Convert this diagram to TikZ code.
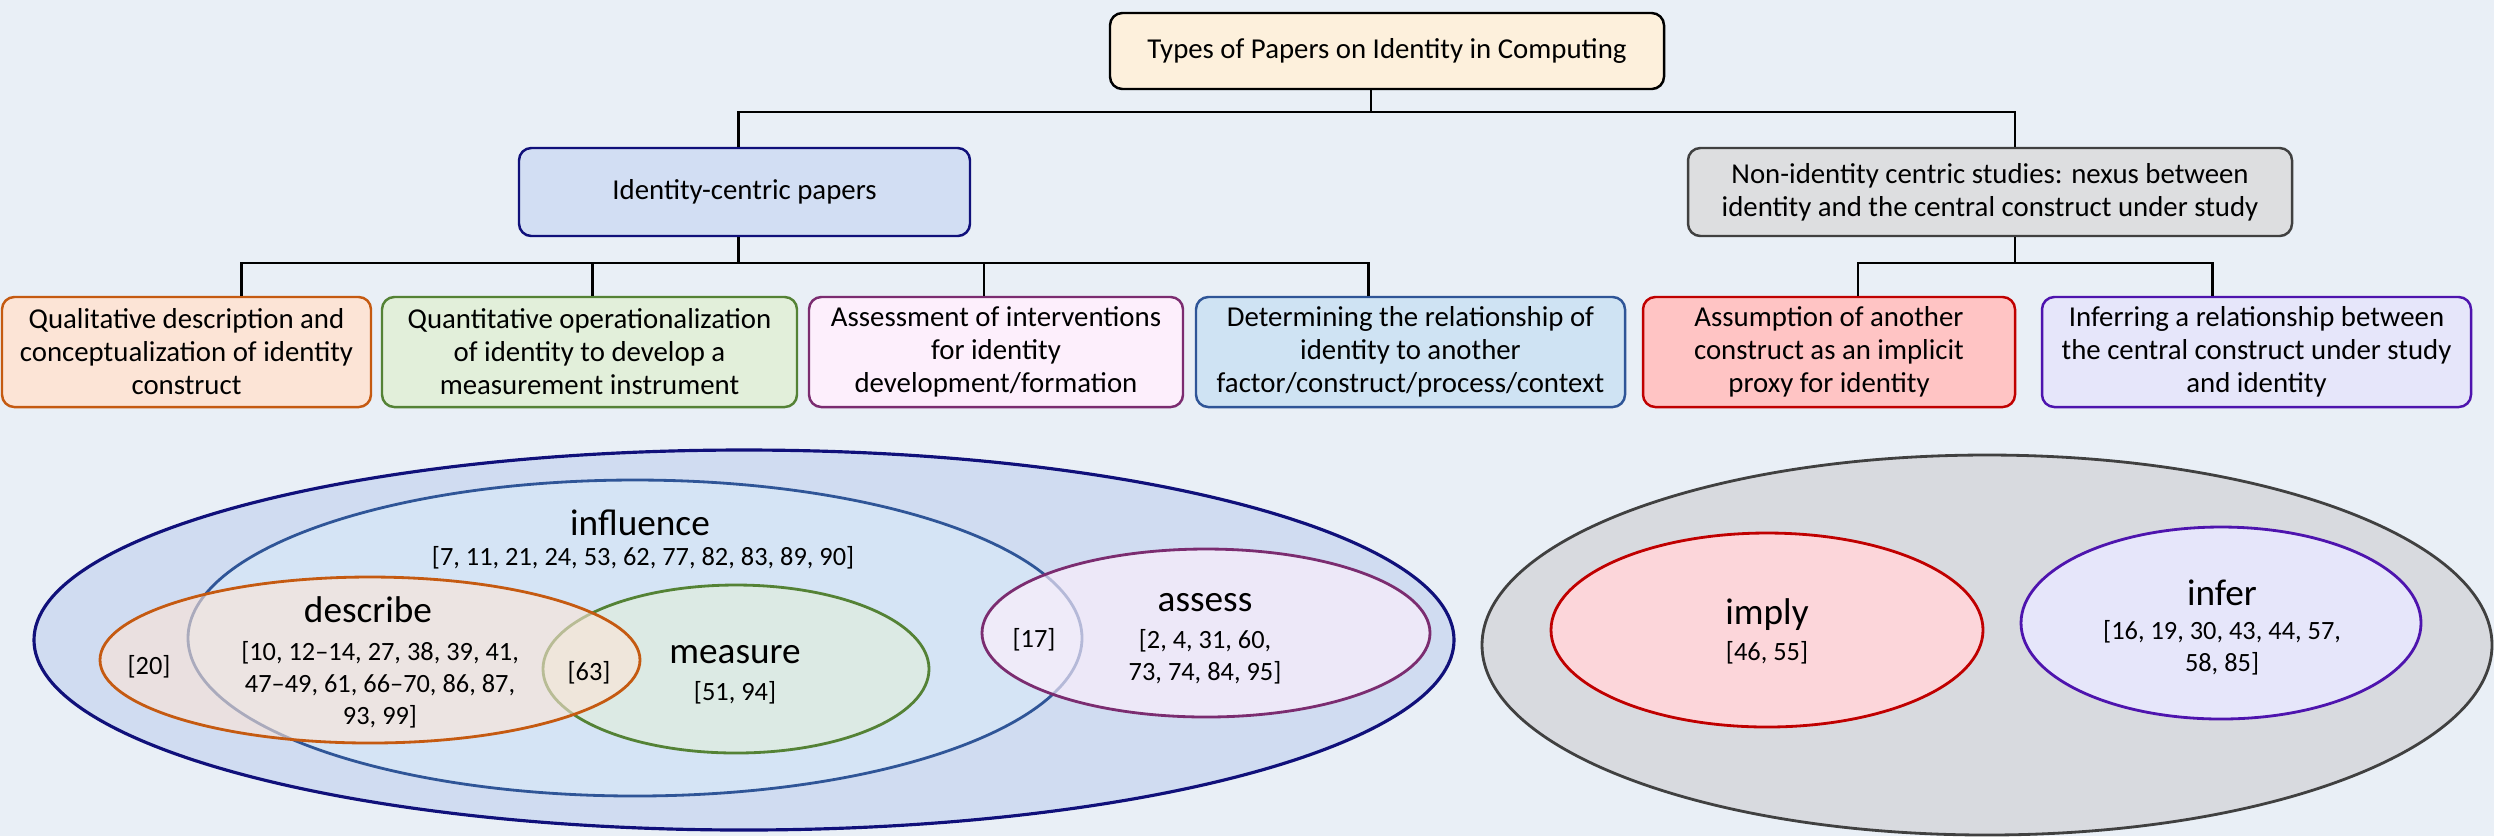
\documentclass[tikz,border=0pt]{standalone}
\usepackage{fontspec}
\setmainfont{Carlito}
\usepackage{tikz}
\definecolor{bgblue}{HTML}{E9EFF6}
\definecolor{topfill}{HTML}{FDF0DC}
\definecolor{idcfill}{HTML}{D2DEF3}
\definecolor{idcline}{HTML}{10107A}
\definecolor{nidfill}{HTML}{DDDEE0}
\definecolor{nidline}{HTML}{404040}
\definecolor{qualfill}{HTML}{FCE4D6}
\definecolor{qualline}{HTML}{C55A11}
\definecolor{quanfill}{HTML}{E2EFDA}
\definecolor{quanline}{HTML}{548235}
\definecolor{assfill}{HTML}{FDEFFC}
\definecolor{assline}{HTML}{7B2C70}
\definecolor{relfill}{HTML}{CFE3F3}
\definecolor{relline}{HTML}{2F5597}
\definecolor{impfill}{HTML}{FFC4C4}
\definecolor{impline}{HTML}{C00000}
\definecolor{inffill}{HTML}{E6E6FA}
\definecolor{infline}{HTML}{4E14AE}
\definecolor{bigfill}{HTML}{D0DCF1}
\definecolor{influfill}{HTML}{D5E4F5}
\definecolor{greyfill}{HTML}{D8DADF}
\definecolor{pinkfill}{HTML}{FCD6DA}
\tikzset{
  box/.style={draw=black, rounded corners=3.5pt, align=center, inner sep=2pt, line width=0.7pt, font=\fontsize{8.2}{9.4}\selectfont},
  link/.style={draw=black, line width=0.6pt},
  venn/.style={line width=0.8pt}
}
\begin{document}
\begin{tikzpicture}[
  tag/.style={font=\fontsize{10.6}{12}\selectfont},
  refs/.style={font=\fontsize{7.5}{9.1}\selectfont, align=center}
]
\useasboundingbox (0,0) rectangle (24.94,-8.36);
\fill[bgblue] (0,0) rectangle (24.94,-8.36);
% tree
\node[box, fill=topfill, minimum width=5.54cm, minimum height=0.76cm] (papers) at (13.87,-0.51) {Types of Papers on Identity in Computing};
\node[box, fill=idcfill, draw=idcline, minimum width=4.51cm, minimum height=0.88cm] (idc) at (7.445,-1.92) {Identity-centric papers};
\node[box, fill=nidfill, draw=nidline, minimum width=6.04cm, minimum height=0.88cm] (nid) at (19.90,-1.92) {Non-identity centric studies: nexus between\\identity and the central construct under study};
\node[box, fill=qualfill, draw=qualline, minimum width=3.69cm, minimum height=1.10cm] (qual) at (1.865,-3.52) {Qualitative description and\\conceptualization of identity\\construct};
\node[box, fill=quanfill, draw=quanline, minimum width=4.15cm, minimum height=1.10cm] (quan) at (5.895,-3.52) {Quantitative operationalization\\of identity to develop a\\measurement instrument};
\node[box, fill=assfill, draw=assline, minimum width=3.74cm, minimum height=1.10cm] (interv) at (9.96,-3.52) {Assessment of interventions\\for identity\\development/formation};
\node[box, fill=relfill, draw=relline, minimum width=4.29cm, minimum height=1.10cm] (relat) at (14.105,-3.52) {Determining the relationship of\\identity to another\\factor/construct/process/context};
\node[box, fill=impfill, draw=impline, minimum width=3.72cm, minimum height=1.10cm] (proxy) at (18.29,-3.52) {Assumption of another\\construct as an implicit\\proxy for identity};
\node[box, fill=inffill, draw=infline, minimum width=4.29cm, minimum height=1.10cm] (infrel) at (22.565,-3.52) {Inferring a relationship between\\the central construct under study\\and identity};
\draw[link] ([xshift=-1.6mm]papers.south) -- ++(0,-0.22) -| ([xshift=-0.6mm]idc.north);
\draw[link] ([xshift=-1.6mm]papers.south) -- ++(0,-0.22) -| ([xshift=2.5mm]nid.north);
\draw[link] ([xshift=-0.6mm]idc.south) -- ++(0,-0.26) -| ([xshift=5.5mm]qual.north);
\draw[link] ([xshift=-0.6mm]idc.south) -- ++(0,-0.26) -| ([xshift=0.3mm]quan.north);
\draw[link] ([xshift=-0.6mm]idc.south) -- ++(0,-0.26) -| ([xshift=-1.2mm]interv.north);
\draw[link] ([xshift=-0.6mm]idc.south) -- ++(0,-0.26) -| ([xshift=-4.2mm]relat.north);
\draw[link] ([xshift=2.5mm]nid.south) -- ++(0,-0.26) -| ([xshift=2.9mm]proxy.north);
\draw[link] ([xshift=2.5mm]nid.south) -- ++(0,-0.26) -| ([xshift=-4.4mm]infrel.north);
% left venn
\draw[venn, fill=bigfill, draw=idcline, line width=0.9pt] (7.44,-6.40) ellipse [x radius=7.10, y radius=1.90];
\draw[venn, fill=influfill, draw=relline] (6.35,-6.38) ellipse [x radius=4.47, y radius=1.58];
\draw[venn, fill=quanfill, fill opacity=0.6, draw=quanline] (7.36,-6.69) ellipse [x radius=1.93, y radius=0.84];
\draw[venn, fill=qualfill, fill opacity=0.6, draw=qualline] (3.70,-6.60) ellipse [x radius=2.70, y radius=0.83];
\draw[venn, fill=assfill, fill opacity=0.65, draw=assline] (12.06,-6.33) ellipse [x radius=2.24, y radius=0.84];
\node[tag] (influ) at (6.40,-5.23) {influence};
\node[refs] (influrefs) at (6.43,-5.58) {[7, 11, 21, 24, 53, 62, 77, 82, 83, 89, 90]};
\node[tag] (descr) at (3.68,-6.10) {describe};
\node[refs] (descrrefs) at (3.80,-6.85) {[10, 12--14, 27, 38, 39, 41,\\47--49, 61, 66--70, 86, 87,\\93, 99]};
\node[refs] (only20) at (1.49,-6.67) {[20]};
\node[refs] (both63) at (5.89,-6.73) {[63]};
\node[tag] (meas) at (7.35,-6.55) {measure};
\node[refs] (measrefs) at (7.35,-6.93) {[51, 94]};
\node[refs] (both17) at (10.34,-6.40) {[17]};
\node[tag] (assess) at (12.05,-6.03) {assess};
\node[refs] (assrefs) at (12.05,-6.57) {[2, 4, 31, 60,\\73, 74, 84, 95]};
% right venn
\draw[venn, fill=greyfill, draw=nidline] (19.87,-6.45) ellipse [x radius=5.05, y radius=1.90];
\draw[venn, fill=pinkfill, draw=impline] (17.67,-6.30) ellipse [x radius=2.16, y radius=0.97];
\draw[venn, fill=inffill, draw=infline] (22.21,-6.23) ellipse [x radius=2.00, y radius=0.96];
\node[tag] (imply) at (17.67,-6.15) {imply};
\node[refs] (imprefs) at (17.67,-6.53) {[46, 55]};
\node[tag] (infer) at (22.22,-5.93) {infer};
\node[refs] (infrefs) at (22.22,-6.48) {[16, 19, 30, 43, 44, 57,\\58, 85]};
\end{tikzpicture}
\end{document}
